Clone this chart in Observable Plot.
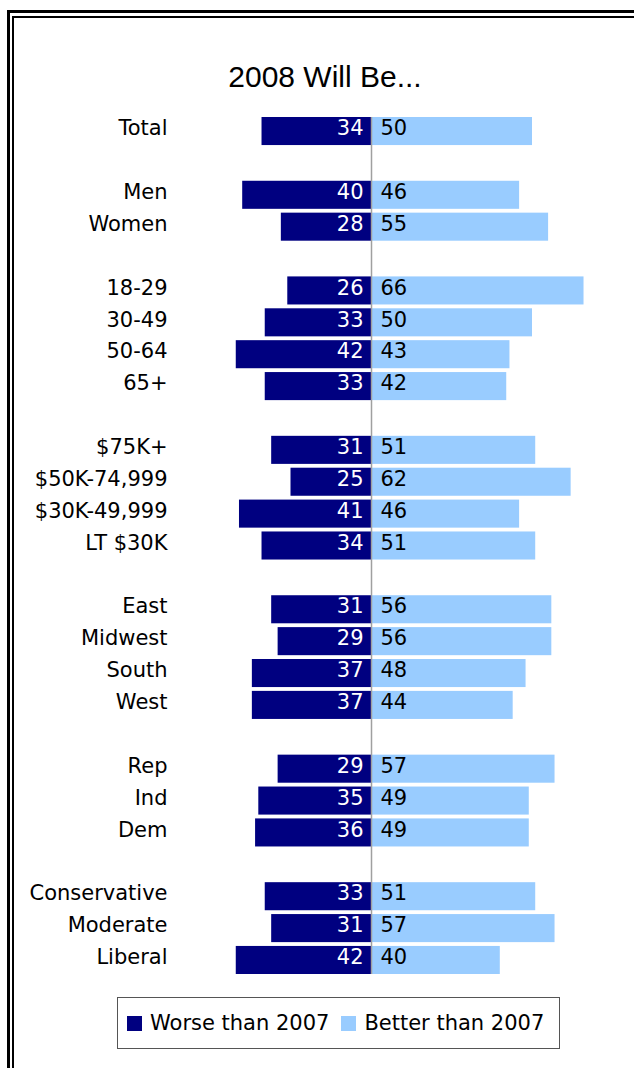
<!DOCTYPE html>
<html>
<head>
<meta charset="utf-8">
<script src="https://cdn.jsdelivr.net/npm/d3@7"></script>
<script src="https://cdn.jsdelivr.net/npm/@observablehq/plot@0.6"></script>
<style>
  html, body { margin: 0; padding: 0; background: #fff; }
  #page { position: relative; width: 634px; height: 1068px; overflow: hidden; background: #fff; }
  .frame { position: absolute; width: 800px; height: 1300px; }
  #outer { left: 7px; top: 10px; border-left: 3px solid #000; border-top: 3px solid #000; }
  #inner { left: 12px; top: 16px; border-left: 2px solid #000; border-top: 2px solid #000; }
  #title { position: absolute; left: 125px; width: 400px; top: 62px; text-align: center;
           font-family: "Liberation Sans", Arial, sans-serif; font-size: 30px; line-height: 30px; color: #000; }
  #chart { position: absolute; left: 0; top: 0; }
  #legend { position: absolute; left: 117px; top: 997px; width: 443px; height: 52px; box-sizing: border-box;
            border: 1px solid #555; display: flex; align-items: center; padding-left: 9px;
            font-family: "DejaVu Sans", sans-serif; font-size: 21px; color: #000; }
  .sw { width: 15px; height: 15px; display: inline-block; margin-right: 8px; }
  .item { display: flex; align-items: center; margin-right: 12px; }
</style>
</head>
<body>
<div id="page">
  <div id="outer" class="frame"></div>
  <div id="inner" class="frame"></div>
  <div id="title">2008 Will Be...</div>
  <div id="chart"></div>
  <div id="legend"></div>
</div>
<script>
const categories = ["Total", "Men", "Women", "18-29", "30-49", "50-64", "65+",
  "$75K+", "$50K-74,999", "$30K-49,999", "LT $30K", "East", "Midwest", "South", "West",
  "Rep", "Ind", "Dem", "Conservative", "Moderate", "Liberal"];
const worse  = [34, 40, 28, 26, 33, 42, 33, 31, 25, 41, 34, 31, 29, 37, 37, 29, 35, 36, 33, 31, 42];
const better = [50, 46, 55, 66, 50, 43, 42, 51, 62, 46, 51, 56, 56, 48, 44, 57, 49, 49, 51, 57, 40];
const groupSizes = [1, 2, 4, 4, 4, 3, 3];
const seriesNames = ["Worse than 2007", "Better than 2007"];
const seriesColors = ["#000080", "#99CCFF"];

const rowKeys = [];
let idx = 0;
groupSizes.forEach((n, g) => {
  if (g > 0) rowKeys.push("gap" + g);
  for (let j = 0; j < n; j++) rowKeys.push(categories[idx++]);
});
const data = categories.map((c, i) => ({category: c, worse: worse[i], better: better[i]}));

const font = "DejaVu Sans, sans-serif";
const chart = Plot.plot({
  width: 634,
  height: 1000,
  marginTop: 117,
  marginBottom: 26,
  marginLeft: 210,
  marginRight: 37.6,
  style: {fontFamily: font, fontSize: "21px", background: "transparent"},
  x: {domain: [-50, 70], axis: null},
  y: {domain: rowKeys, paddingInner: 0.12, paddingOuter: 0, round: false, axis: null},
  marks: [
    Plot.barX(data, {y: "category", x1: d => -d.worse, x2: 0, fill: seriesColors[0]}),
    Plot.barX(data, {y: "category", x1: 0, x2: "better", fill: seriesColors[1]}),
    Plot.ruleX([0], {stroke: "#A0A0A0", strokeWidth: 1.5}),
    Plot.text(data, {y: "category", x: 0, text: d => String(d.worse), textAnchor: "end", dx: -8, dy: -3,
      fill: "#fff", fontSize: 21, fontFamily: font}),
    Plot.text(data, {y: "category", x: 0, text: d => String(d.better), textAnchor: "start", dx: 9, dy: -3,
      fill: "#000", fontSize: 21, fontFamily: font}),
    Plot.axisY({tickSize: 0, tickPadding: 43, label: null, fontSize: 21, fontFamily: font, dy: -3,
      tickFormat: k => k.startsWith("gap") ? "" : k, fill: "#000"})
  ]
});
document.getElementById("chart").appendChild(chart);

const legend = document.getElementById("legend");
seriesNames.forEach((name, i) => {
  const item = document.createElement("div");
  item.className = "item";
  const sw = document.createElement("span");
  sw.className = "sw";
  sw.style.background = seriesColors[i];
  const t = document.createElement("span");
  t.textContent = name;
  item.appendChild(sw);
  item.appendChild(t);
  legend.appendChild(item);
});
</script>
</body>
</html>
